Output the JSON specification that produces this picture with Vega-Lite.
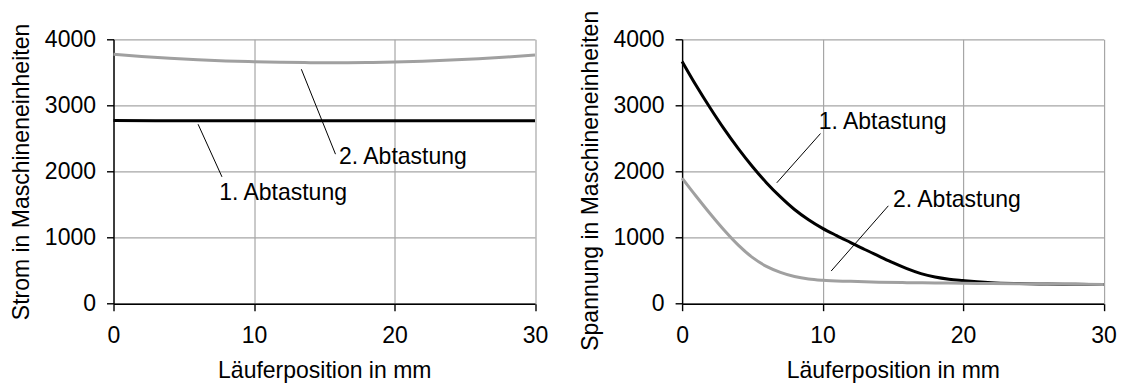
{
  "$schema": "https://vega.github.io/schema/vega-lite/v6.json",
  "autosize": {"type": "none"},
  "padding": {"left": 113.5, "top": 39.3, "right": 1007.5, "bottom": 345.7},
  "background": "white",
  "config": {
    "font": "Liberation Sans",
    "view": {"stroke": null},
    "axis": {
      "grid": true,
      "gridColor": "#a6a6a6",
      "gridWidth": 1.2,
      "domainColor": "#000000",
      "domainWidth": 1.4,
      "tickColor": "#000000",
      "tickWidth": 1.4,
      "tickSize": 7,
      "labelFont": "Liberation Sans",
      "labelFontSize": 23,
      "labelColor": "#000000",
      "titleFont": "Liberation Sans",
      "titleFontSize": 23,
      "titleFontWeight": "normal",
      "titleColor": "#000000",
      "labelFlush": false,
      "labelOverlap": false,
      "format": "d"
    },
    "axisX": {"labelPadding": 14, "titleBaseline": "alphabetic", "titleY": 74},
    "axisY": {"labelPadding": 11, "titleBaseline": "middle", "titleX": -92}
  },
  "datasets": {
    "strom": [
      {"x": 0, "y": 2770, "s": "1. Abtastung"},
      {"x": 3, "y": 2768, "s": "1. Abtastung"},
      {"x": 6, "y": 2767, "s": "1. Abtastung"},
      {"x": 9, "y": 2768, "s": "1. Abtastung"},
      {"x": 12, "y": 2768, "s": "1. Abtastung"},
      {"x": 15, "y": 2767, "s": "1. Abtastung"},
      {"x": 18, "y": 2768, "s": "1. Abtastung"},
      {"x": 21, "y": 2768, "s": "1. Abtastung"},
      {"x": 24, "y": 2767, "s": "1. Abtastung"},
      {"x": 27, "y": 2768, "s": "1. Abtastung"},
      {"x": 30, "y": 2768, "s": "1. Abtastung"},
      {"x": 0, "y": 3775, "s": "2. Abtastung"},
      {"x": 2, "y": 3740, "s": "2. Abtastung"},
      {"x": 4, "y": 3712, "s": "2. Abtastung"},
      {"x": 6, "y": 3690, "s": "2. Abtastung"},
      {"x": 8, "y": 3673, "s": "2. Abtastung"},
      {"x": 10, "y": 3661, "s": "2. Abtastung"},
      {"x": 12, "y": 3652, "s": "2. Abtastung"},
      {"x": 14, "y": 3647, "s": "2. Abtastung"},
      {"x": 16, "y": 3646, "s": "2. Abtastung"},
      {"x": 18, "y": 3649, "s": "2. Abtastung"},
      {"x": 20, "y": 3656, "s": "2. Abtastung"},
      {"x": 22, "y": 3668, "s": "2. Abtastung"},
      {"x": 24, "y": 3685, "s": "2. Abtastung"},
      {"x": 26, "y": 3706, "s": "2. Abtastung"},
      {"x": 28, "y": 3732, "s": "2. Abtastung"},
      {"x": 30, "y": 3762, "s": "2. Abtastung"}
    ],
    "spannung": [
      {"x": 0, "y": 3665, "s": "1. Abtastung"},
      {"x": 1, "y": 3300, "s": "1. Abtastung"},
      {"x": 2, "y": 2960, "s": "1. Abtastung"},
      {"x": 3, "y": 2640, "s": "1. Abtastung"},
      {"x": 4, "y": 2345, "s": "1. Abtastung"},
      {"x": 5, "y": 2075, "s": "1. Abtastung"},
      {"x": 6, "y": 1830, "s": "1. Abtastung"},
      {"x": 7, "y": 1615, "s": "1. Abtastung"},
      {"x": 8, "y": 1425, "s": "1. Abtastung"},
      {"x": 9, "y": 1270, "s": "1. Abtastung"},
      {"x": 10, "y": 1140, "s": "1. Abtastung"},
      {"x": 11, "y": 1030, "s": "1. Abtastung"},
      {"x": 12, "y": 925, "s": "1. Abtastung"},
      {"x": 13, "y": 820, "s": "1. Abtastung"},
      {"x": 14, "y": 720, "s": "1. Abtastung"},
      {"x": 15, "y": 620, "s": "1. Abtastung"},
      {"x": 16, "y": 530, "s": "1. Abtastung"},
      {"x": 17, "y": 455, "s": "1. Abtastung"},
      {"x": 18, "y": 403, "s": "1. Abtastung"},
      {"x": 19, "y": 370, "s": "1. Abtastung"},
      {"x": 20, "y": 350, "s": "1. Abtastung"},
      {"x": 21, "y": 332, "s": "1. Abtastung"},
      {"x": 22, "y": 318, "s": "1. Abtastung"},
      {"x": 24, "y": 305, "s": "1. Abtastung"},
      {"x": 26, "y": 298, "s": "1. Abtastung"},
      {"x": 28, "y": 294, "s": "1. Abtastung"},
      {"x": 30, "y": 290, "s": "1. Abtastung"},
      {"x": 0, "y": 1900, "s": "2. Abtastung"},
      {"x": 1, "y": 1625, "s": "2. Abtastung"},
      {"x": 2, "y": 1360, "s": "2. Abtastung"},
      {"x": 3, "y": 1110, "s": "2. Abtastung"},
      {"x": 4, "y": 885, "s": "2. Abtastung"},
      {"x": 5, "y": 700, "s": "2. Abtastung"},
      {"x": 6, "y": 565, "s": "2. Abtastung"},
      {"x": 7, "y": 475, "s": "2. Abtastung"},
      {"x": 8, "y": 412, "s": "2. Abtastung"},
      {"x": 9, "y": 374, "s": "2. Abtastung"},
      {"x": 10, "y": 354, "s": "2. Abtastung"},
      {"x": 12, "y": 338, "s": "2. Abtastung"},
      {"x": 14, "y": 326, "s": "2. Abtastung"},
      {"x": 16, "y": 318, "s": "2. Abtastung"},
      {"x": 18, "y": 314, "s": "2. Abtastung"},
      {"x": 20, "y": 310, "s": "2. Abtastung"},
      {"x": 22, "y": 305, "s": "2. Abtastung"},
      {"x": 25, "y": 300, "s": "2. Abtastung"},
      {"x": 30, "y": 290, "s": "2. Abtastung"}
    ],
    "leaderStrom": [
      {"x": 13.37, "y": 3547, "x2": 15.8, "y2": 2262},
      {"x": 6.02, "y": 2715, "x2": 7.72, "y2": 1919}
    ],
    "labelStrom": [
      {"x": 16.05, "y": 2222, "t": "2. Abtastung"},
      {"x": 7.52, "y": 1678, "t": "1. Abtastung"}
    ],
    "leaderSpannung": [
      {"x": 6.74, "y": 1829, "x2": 9.85, "y2": 2574},
      {"x": 10.61, "y": 494, "x2": 14.68, "y2": 1481}
    ],
    "labelSpannung": [
      {"x": 9.72, "y": 2752, "t": "1. Abtastung"},
      {"x": 15.01, "y": 1567, "t": "2. Abtastung"}
    ]
  },
  "bounds": "flush",
  "spacing": 146.6,
  "hconcat": [
    {
      "width": 421.5,
      "height": 264.4,
      "encoding": {
        "x": {"field": "x", "type": "quantitative", "scale": {"domain": [0, 30], "nice": false}, "axis": {"values": [0, 10, 20, 30], "title": "Läuferposition in mm"}},
        "y": {"field": "y", "type": "quantitative", "scale": {"domain": [0, 4000], "nice": false}, "axis": {"values": [0, 1000, 2000, 3000, 4000], "title": "Strom in Maschineneinheiten"}}
      },
      "layer": [
        {
          "data": {"name": "strom"},
          "mark": {"type": "line", "interpolate": "monotone", "strokeWidth": 3},
          "encoding": {
            "color": {"field": "s", "type": "nominal", "scale": {"domain": ["1. Abtastung", "2. Abtastung"], "range": ["#000000", "#a0a0a0"]}, "legend": null}
          }
        },
        {
          "data": {"name": "leaderStrom"},
          "mark": {"type": "rule", "color": "#000000", "strokeWidth": 1},
          "encoding": {"x2": {"field": "x2"}, "y2": {"field": "y2"}}
        },
        {
          "data": {"name": "labelStrom"},
          "mark": {"type": "text", "align": "left", "baseline": "middle", "fontSize": 23, "color": "#000000", "font": "Liberation Sans"},
          "encoding": {"text": {"field": "t"}}
        }
      ]
    },
    {
      "width": 421.5,
      "height": 264.4,
      "encoding": {
        "x": {"field": "x", "type": "quantitative", "scale": {"domain": [0, 30], "nice": false}, "axis": {"values": [0, 10, 20, 30], "title": "Läuferposition in mm"}},
        "y": {"field": "y", "type": "quantitative", "scale": {"domain": [0, 4000], "nice": false}, "axis": {"values": [0, 1000, 2000, 3000, 4000], "title": "Spannung in Maschineneinheiten", "titleY": 141}}
      },
      "layer": [
        {
          "data": {"name": "spannung"},
          "mark": {"type": "line", "interpolate": "monotone", "strokeWidth": 3},
          "encoding": {
            "color": {"field": "s", "type": "nominal", "scale": {"domain": ["1. Abtastung", "2. Abtastung"], "range": ["#000000", "#a0a0a0"]}, "legend": null},
            "order": {"field": "x", "type": "quantitative"}
          }
        },
        {
          "data": {"name": "leaderSpannung"},
          "mark": {"type": "rule", "color": "#000000", "strokeWidth": 1},
          "encoding": {"x2": {"field": "x2"}, "y2": {"field": "y2"}}
        },
        {
          "data": {"name": "labelSpannung"},
          "mark": {"type": "text", "align": "left", "baseline": "middle", "fontSize": 23, "color": "#000000", "font": "Liberation Sans"},
          "encoding": {"text": {"field": "t"}}
        }
      ]
    }
  ]
}
